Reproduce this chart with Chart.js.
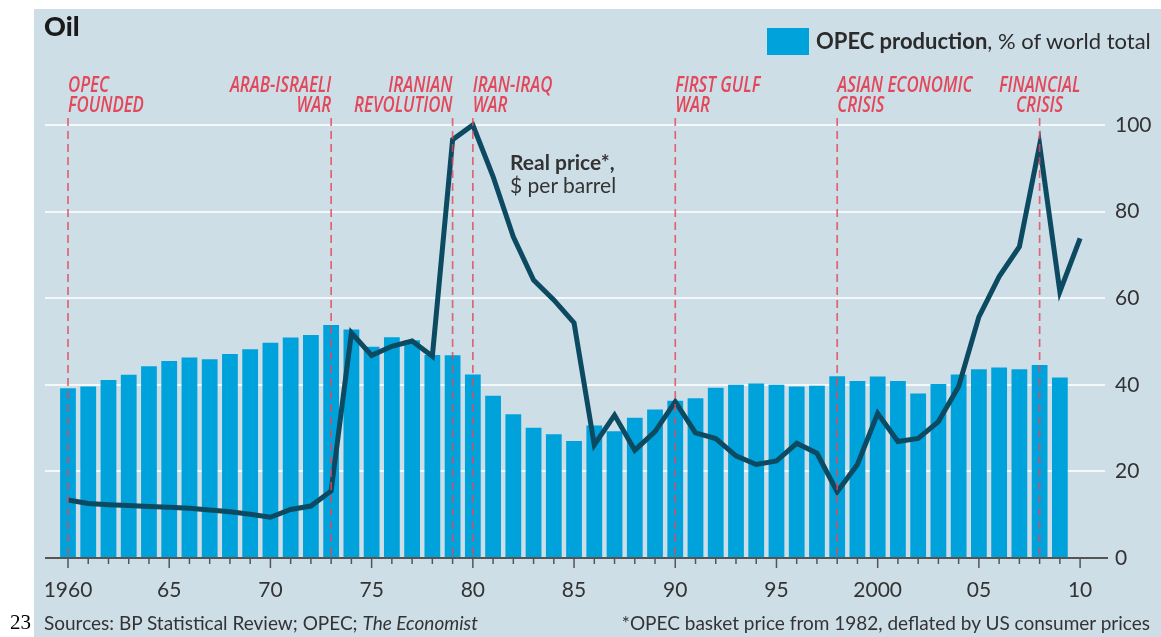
<!DOCTYPE html>
<html>
<head>
<meta charset="utf-8">
<script src="https://cdn.jsdelivr.net/npm/chart.js@4.4.0/dist/chart.umd.min.js"></script>
<style>
  html, body { margin: 0; padding: 0; background: #fff; }
  body { width: 1161px; height: 637px; position: relative; overflow: hidden; font-family: Lato, "Open Sans", sans-serif; color: #333; }
  #panel { position: absolute; left: 34px; top: 9px; width: 1127px; height: 628px; background: #cedee7; }
  #wrap { position: absolute; left: 0; top: 0; width: 1161px; height: 637px; }
  .txt { position: absolute; white-space: nowrap; line-height: 1; }
  #title { left: 44px; top: 12px; font-size: 27px; font-weight: 900; color: #1a1a1a; }
  #swatch { position: absolute; left: 767px; top: 28px; width: 42px; height: 27px; background: #00a2dc; }
  #legend { left: 816px; top: 30px; font-size: 22px; color: #2b2b2b; }
  #legend b { font-weight: 700; }
  #price1 { left: 510px; top: 151px; font-size: 21px; font-weight: 700; color: #333; }
  #price2 { left: 510px; top: 174px; font-size: 21px; color: #333; }
  #source { left: 44px; top: 613px; font-size: 19px; color: #333; }
  #note { right: 11px; top: 613px; font-size: 19px; color: #333; }
  #page { left: 10px; top: 612px; font-size: 21px; font-family: "Liberation Serif", "DejaVu Serif", serif; color: #000; }
</style>
</head>
<body>
<div id="panel"></div>
<div id="wrap"><canvas id="oilChart"></canvas></div>
<div class="txt" id="title">Oil</div>
<div id="swatch"></div>
<div class="txt" id="legend"><b>OPEC production</b>, % of world total</div>
<div class="txt" id="price1">Real price*,</div>
<div class="txt" id="price2">$ per barrel</div>
<div class="txt" id="source">Sources: BP Statistical Review; OPEC; <i>The Economist</i></div>
<div class="txt" id="note">*OPEC basket price from 1982, deflated by US consumer prices</div>
<div class="txt" id="page">23</div>
<script>
// Years on the axis
const years = [
  1960, 1961, 1962, 1963, 1964, 1965, 1966, 1967, 1968, 1969,
  1970, 1971, 1972, 1973, 1974, 1975, 1976, 1977, 1978, 1979,
  1980, 1981, 1982, 1983, 1984, 1985, 1986, 1987, 1988, 1989,
  1990, 1991, 1992, 1993, 1994, 1995, 1996, 1997, 1998, 1999,
  2000, 2001, 2002, 2003, 2004, 2005, 2006, 2007, 2008, 2009, 2010
];

// OPEC production, % of world total (no bar for 2010)
const opecShare = [
  39.2, 39.6, 41.1, 42.3, 44.3, 45.5, 46.3, 45.9, 47.1, 48.2,
  49.7, 50.9, 51.5, 53.8, 52.8, 48.8, 51.0, 50.3, 46.9, 46.8,
  42.4, 37.5, 33.2, 30.1, 28.6, 27.0, 30.6, 29.3, 32.4, 34.3,
  36.3, 36.9, 39.3, 40.0, 40.3, 40.0, 39.6, 39.8, 42.0, 40.9,
  41.9, 40.9, 38.0, 40.2, 42.4, 43.6, 44.0, 43.6, 44.6, 41.7, null
];

// Real price, $ per barrel
const realPrice = [
  13.4, 12.6, 12.3, 12.1, 11.9, 11.7, 11.5, 11.1, 10.7, 10.1,
  9.4, 11.2, 12.0, 15.5, 52.0, 46.8, 48.9, 50.1, 46.6, 96.6,
  100.0, 88.1, 74.2, 64.2, 59.6, 54.3, 26.1, 33.0, 24.9, 29.2,
  36.1, 28.9, 27.6, 23.6, 21.6, 22.4, 26.5, 24.2, 15.3, 21.6,
  33.4, 26.9, 27.6, 31.5, 39.6, 55.7, 65.0, 71.9, 95.4, 61.5, 73.8
];

const tickYears = [1960, 1965, 1970, 1975, 1980, 1985, 1990, 1995, 2000, 2005, 2010];
const tickLabels = ['1960', '65', '70', '75', '80', '85', '90', '95', '2000', '05', '10'];

// Events marked with dashed lines
const eventYears = [1960, 1973, 1979, 1980, 1990, 1998, 2008];
const eventLabels = [
  ['OPEC', 'FOUNDED'],
  ['ARAB-ISRAELI', 'WAR'],
  ['IRANIAN', 'REVOLUTION'],
  ['IRAN-IRAQ', 'WAR'],
  ['FIRST GULF', 'WAR'],
  ['ASIAN ECONOMIC', 'CRISIS'],
  ['FINANCIAL', 'CRISIS']
];
const eventAlign = ['left', 'right', 'right', 'left', 'left', 'left', 'center'];

const colors = {
  bar: '#00a2dc',
  line: '#0c4a62',
  grid: '#f4f8fa',
  axis: '#555555',
  red: '#e2475a',
  text: '#333333'
};

const eventPlugin = {
  id: 'events',
  afterDatasetsDraw(chart) {
    const { ctx, chartArea, scales: { x } } = chart;
    const bottom = chartArea.bottom;
    ctx.save();

    // base axis line and year ticks
    ctx.strokeStyle = colors.axis;
    ctx.lineWidth = 2;
    ctx.beginPath();
    ctx.moveTo(chartArea.left, bottom);
    ctx.lineTo(chartArea.right + 3, bottom);
    ctx.stroke();
    ctx.lineWidth = 1.5;
    years.forEach(yr => {
      const px = x.getPixelForValue(yr);
      ctx.beginPath();
      ctx.moveTo(px, bottom);
      ctx.lineTo(px, bottom + (yr % 5 === 0 ? 10 : 6));
      ctx.stroke();
    });

    // dashed event lines
    ctx.setLineDash([8, 5]);
    ctx.strokeStyle = 'rgba(226, 70, 88, 0.8)';
    ctx.lineWidth = 1.7;
    eventYears.forEach(yr => {
      const px = x.getPixelForValue(yr);
      ctx.beginPath();
      ctx.moveTo(px, chartArea.top - 7);
      ctx.lineTo(px, bottom);
      ctx.stroke();
    });

    // event labels, squeezed to look condensed
    ctx.setLineDash([]);
    ctx.fillStyle = colors.red;
    ctx.font = 'italic 600 21px "Open Sans", Lato, sans-serif';
    ctx.textBaseline = 'alphabetic';
    eventYears.forEach((yr, i) => {
      const px = x.getPixelForValue(yr);
      ctx.save();
      ctx.translate(px, 0);
      ctx.scale(0.8, 1);
      ctx.textAlign = eventAlign[i];
      eventLabels[i].forEach((line, j) => ctx.fillText(line, 0, 92 + j * 20));
      ctx.restore();
    });
    ctx.restore();
  }
};

Chart.defaults.font.family = 'Lato, "Open Sans", sans-serif';

const ctx = document.getElementById('oilChart').getContext('2d');
new Chart(ctx, {
  type: 'bar',
  data: {
    datasets: [
      {
        type: 'line',
        label: 'Real price*, $ per barrel',
        data: years.map((yr, i) => ({ x: yr, y: realPrice[i] })),
        borderColor: colors.line,
        borderWidth: 5,
        pointRadius: 0,
        tension: 0,
        clip: false,
        order: 0
      },
      {
        type: 'bar',
        label: 'OPEC production, % of world total',
        data: years.map((yr, i) => ({ x: yr, y: opecShare[i] })),
        backgroundColor: colors.bar,
        barPercentage: 0.78,
        categoryPercentage: 1,
        order: 1
      }
    ]
  },
  options: {
    responsive: true,
    maintainAspectRatio: false,
    animation: false,
    layout: { padding: { left: 45, top: 125, right: 0, bottom: 0 } },
    scales: {
      x: {
        type: 'linear',
        offset: false,
        min: 1958.864,
        max: 2011.23,
        afterBuildTicks: s => { s.ticks = tickYears.map(v => ({ value: v })); },
        afterFit: s => { s.height = 79; },
        grid: { display: false, drawTicks: false, offset: false },
        border: { display: false },
        ticks: {
          autoSkip: false,
          maxRotation: 0,
          padding: 20,
          color: colors.text,
          font: { size: 21 },
          callback: v => tickLabels[tickYears.indexOf(v)]
        }
      },
      y: {
        position: 'right',
        min: 0,
        max: 100,
        afterFit: s => { s.width = 56; },
        grid: {
          color: c => c.tick.value === 0 ? 'rgba(0,0,0,0)' : colors.grid,
          lineWidth: 2,
          drawTicks: false
        },
        border: { display: false },
        ticks: {
          stepSize: 20,
          padding: 10,
          color: colors.text,
          font: { size: 21 }
        }
      }
    },
    plugins: {
      legend: { display: false },
      tooltip: { enabled: false }
    }
  },
  plugins: [eventPlugin]
});
</script>
</body>
</html>
